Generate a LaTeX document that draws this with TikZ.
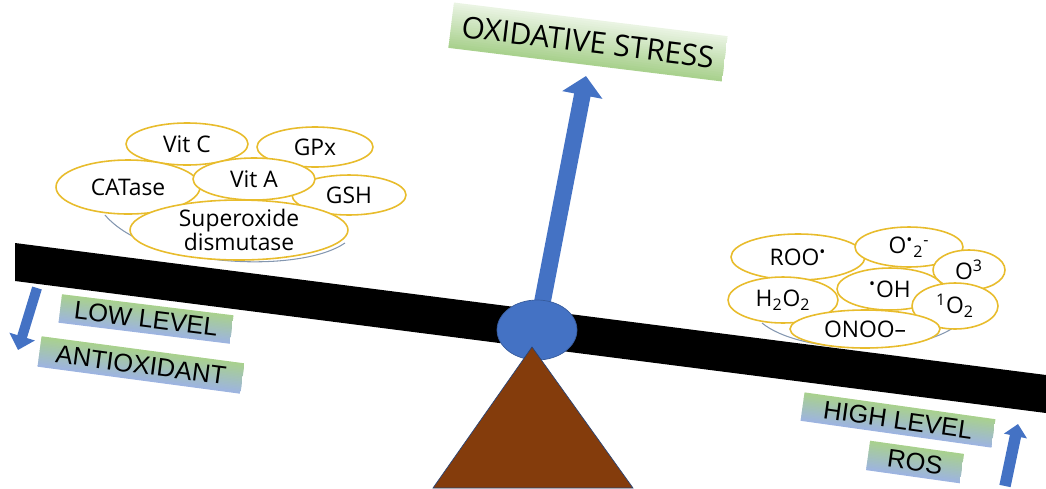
\documentclass[tikz,border=0pt]{standalone}
\usepackage{fontspec}
\setmainfont{Open Sans}
\newfontfamily\arialfont{Liberation Sans}
\usepackage{xcolor}
\usetikzlibrary{shapes.geometric,arrows.meta,positioning,backgrounds,calc}

\definecolor{officeblue}{HTML}{4472C4}
\definecolor{beambrown}{HTML}{843C0C}
\definecolor{ringgold}{HTML}{E8BC2C}
\definecolor{boxgreen}{HTML}{A9D18E}
\definecolor{boxblue}{HTML}{9DB4E0}
\definecolor{bowlgray}{HTML}{8497B0}
\colorlet{palegreen}{boxgreen!25}

\tikzset{
  bubble/.style={ellipse, draw=ringgold, line width=0.9pt, fill=white, inner sep=0pt,
    align=center, font=\fontsize{13}{14}\selectfont},
  levelbox/.style={rectangle, inner sep=0pt, font=\arialfont\fontsize{14.5}{15}\selectfont},
  stressbox/.style={rectangle, inner sep=0pt, font=\fontsize{17}{18}\selectfont},
  bluearrow/.style={officeblue, line width=#1},
  bowl/.style={draw=bowlgray, line width=0.6pt}
}
% graded plate behind a rotated label (top colour #2, bottom colour #3)
\newcommand{\plate}[3]{%
  \begin{scope}[on background layer]
    \begin{scope}
      \clip (#1.north west) -- (#1.north east) -- (#1.south east) -- (#1.south west) -- cycle;
      \foreach \k in {0,...,19}{
        \pgfmathsetmacro{\mix}{100-100*\k/19}
        \fill[#2!\mix!#3] ($(#1.north west)!{\k/20}!(#1.south west)$) -- ($(#1.north east)!{\k/20}!(#1.south east)$)
          -- ($(#1.north east)!{(\k+1.5)/20}!(#1.south east)$) -- ($(#1.north west)!{(\k+1.5)/20}!(#1.south west)$) -- cycle;
      }
    \end{scope}
  \end{scope}}

\begin{document}
\begin{tikzpicture}[x=0.02cm, y=-0.02cm]
    \useasboundingbox (0,0) rectangle (1046,488);

    % bowls under the two groups
    \draw[bowl] (105,215) .. controls (150,268) and (300,274) .. (345,243);
    \draw[bowl] (762,323) .. controls (800,354) and (910,356) .. (953,328);

    % antioxidants
    \node[bubble, minimum width=2.44cm, minimum height=0.84cm] (vitc) at (187,144) {Vit C};
    \node[bubble, minimum width=2.32cm, minimum height=0.80cm] (gpx) at (315,147) {GPx};
    \node[bubble, minimum width=2.28cm, minimum height=0.80cm] (gsh) at (349,195) {GSH};
    \node[bubble, minimum width=2.88cm, minimum height=1.08cm] (catase) at (128,187) {CATase};
    \node[bubble, minimum width=2.44cm, minimum height=0.84cm] (vita) at (254,179) {Vit A};
    \node[bubble, minimum width=4.36cm, minimum height=1.20cm] (sod) at (239,230) {Superoxide\\dismutase};

    % reactive oxygen species
    \node[bubble, minimum width=2.68cm, minimum height=0.92cm] (roo) at (798,257) {ROO\textsuperscript{\textbullet}};
    \node[bubble, minimum width=2.16cm, minimum height=0.80cm] (superox) at (909,247) {O\textsuperscript{\textbullet}\textsubscript{2}\textsuperscript{-}};
    \node[bubble, minimum width=1.44cm, minimum height=0.80cm] (ozone) at (969,270) {O\textsuperscript{3}};
    \node[bubble, minimum width=2.20cm, minimum height=0.92cm] (hperox) at (783,300) {H\textsubscript{2}O\textsubscript{2}};
    \node[bubble, minimum width=2.12cm, minimum height=0.84cm] (hydroxyl) at (890,289) {\textsuperscript{\textbullet}OH};
    \node[bubble, minimum width=1.72cm, minimum height=0.92cm] (singlet) at (955,306) {\textsuperscript{1}O\textsubscript{2}};
    \node[bubble, minimum width=3.00cm, minimum height=0.76cm] (perox) at (865,329) {ONOO--};

    % beam
    \fill[black] (15,243) -- (1046,375) -- (1046,413) -- (15,281) -- cycle;

    % labels
    \node[stressbox, rotate=-7, minimum width=5.5cm, minimum height=0.9cm] (stress) at (588,42) {OXIDATIVE STRESS};
    \node[levelbox, rotate=-7, minimum width=3.44cm, minimum height=0.56cm] (lowlevel) at (146,319) {LOW LEVEL};
    \node[levelbox, rotate=-7.6, minimum width=4.08cm, minimum height=0.60cm] (antiox) at (141,365) {ANTIOXIDANT};
    \node[levelbox, rotate=-8, minimum width=3.84cm, minimum height=0.56cm] (highlevel) at (898,420) {HIGH LEVEL};
    \node[levelbox, rotate=-8, minimum width=1.88cm, minimum height=0.58cm] (ros) at (915,462) {ROS};
    \plate{stress}{palegreen}{boxgreen}
    \plate{lowlevel}{boxgreen}{boxblue}
    \plate{antiox}{boxgreen}{boxblue}
    \plate{highlevel}{boxgreen}{boxblue}
    \plate{ros}{boxgreen}{boxblue}

    % arrows
    \coordinate (fulcrum) at (537,330);
    \coordinate (stresstip) at (586,76);
    \coordinate (downtop) at (37,288);
    \coordinate (downtip) at (18,350);
    \coordinate (uptail) at (1005,486);
    \coordinate (uptip) at (1018,424);
    \draw[bluearrow=9.5pt, -{Triangle[width=22.7pt, length=11pt]}] (fulcrum) -- (stresstip);
    \draw[bluearrow=5.7pt, -{Triangle[width=14.7pt, length=8pt]}] (downtop) -- (downtip);
    \draw[bluearrow=6.5pt, -{Triangle[width=13pt, length=7pt]}] (uptail) -- (uptip);

    % pivot and stand
    \node[ellipse, fill=officeblue, draw=officeblue!80!black, minimum width=1.6cm, minimum height=1.2cm, inner sep=0pt] (pivot) at (fulcrum) {};
    \filldraw[fill=beambrown, draw=officeblue!60!black, line width=0.4pt] (532,347) -- (633,488) -- (433,488) -- cycle;
\end{tikzpicture}
\end{document}
